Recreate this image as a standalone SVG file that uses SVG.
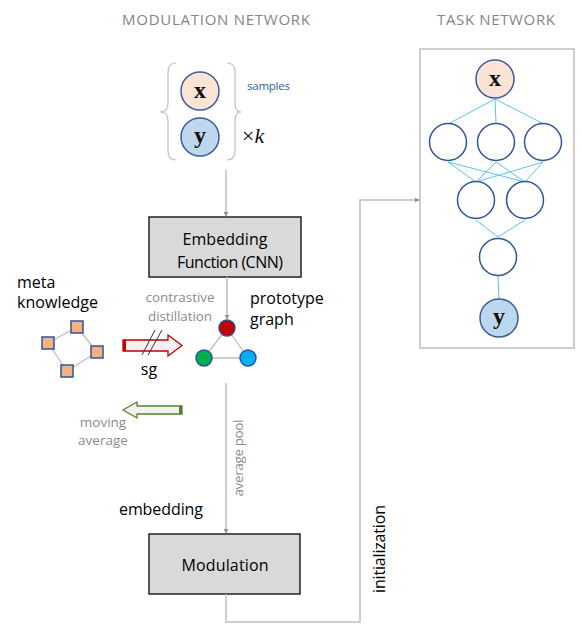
<svg xmlns="http://www.w3.org/2000/svg" width="581" height="629" viewBox="0 0 581 629">
<defs>
<marker id="ah" viewBox="0 0 10 10" refX="9" refY="5" markerWidth="5" markerHeight="5" orient="auto" markerUnits="userSpaceOnUse">
<path d="M0,0 L10,5 L0,10 z" fill="#8c8c8c"/>
</marker>
<style>
.hdr{font-family:"Open Sans","Liberation Sans",sans-serif;font-size:15px;fill:#858585}
.lbl{font-family:"Open Sans","Liberation Sans",sans-serif;font-size:16px;fill:#000}
.gry{font-family:"Open Sans","Liberation Sans",sans-serif;font-size:13.5px;fill:#8c8c8c}
.box{fill:#d9d9d9;stroke:#222;stroke-width:1.5}
.conn{fill:none;stroke:#bfbfbf;stroke-width:1.5}
.math{font-family:"Liberation Serif","DejaVu Serif",serif;font-weight:bold;font-size:24px;fill:#111}
.nn{fill:#fff;stroke:#2f5597;stroke-width:1.5}
.nl{stroke:#5bc4f0;stroke-width:1}
.sq{fill:#f4b183;stroke:#2f5597;stroke-width:1.5}
.gl{stroke:#bfbfbf;stroke-width:1.3}
</style>
</defs>
<rect width="581" height="629" fill="#fff"/>

<text class="hdr" x="216" y="25" text-anchor="middle" textLength="188">MODULATION NETWORK</text>
<text class="hdr" x="496" y="25" text-anchor="middle" textLength="118">TASK NETWORK</text>

<g id="samples">
<path d="M176,63 Q168,63 168,72 L168,103 Q168,112 160,112 Q168,112 168,121 L168,151 Q168,160 176,160" fill="none" stroke="#bfbfbf" stroke-width="1.2"/>
<path d="M227,63 Q235,63 235,72 L235,103 Q235,112 241,112 Q235,112 235,121 L235,151 Q235,160 227,160" fill="none" stroke="#bfbfbf" stroke-width="1.2"/>
<circle cx="200" cy="91" r="19" fill="#fbe3d6" stroke="#3d5a99" stroke-width="1.5"/>
<text class="math" x="200" y="98" text-anchor="middle">x</text>
<circle cx="200" cy="137" r="19" fill="#bdd7ee" stroke="#3d5a99" stroke-width="1.5"/>
<text class="math" x="200" y="143" text-anchor="middle">y</text>
<text x="247" y="90" font-family="Open Sans,Liberation Sans,sans-serif" font-size="11.5" fill="#2e5fa3" textLength="43">samples</text>
<text x="242" y="143" font-family="Liberation Serif,DejaVu Serif,serif" font-size="22" fill="#111">×<tspan font-style="italic">k</tspan></text>
</g>

<g id="embedding-function">
<rect class="box" x="149" y="217" width="152" height="60"/>
<text class="lbl" x="225" y="245" text-anchor="middle" textLength="85">Embedding</text>
<text class="lbl" x="230" y="268" text-anchor="middle" textLength="106">Function (CNN)</text>
</g>

<g id="meta-knowledge">
<text class="lbl" x="17" y="288" font-size="17">meta</text>
<text class="lbl" x="17" y="308" font-size="17" textLength="81">knowledge</text>
<line class="gl" x1="77" y1="327" x2="48" y2="343"/>
<line class="gl" x1="77" y1="327" x2="97" y2="352"/>
<line class="gl" x1="48" y1="343" x2="67" y2="371"/>
<line class="gl" x1="97" y1="352" x2="67" y2="371"/>
<rect class="sq" x="71" y="321" width="12" height="12"/>
<rect class="sq" x="42" y="337" width="12" height="12"/>
<rect class="sq" x="91" y="346" width="12" height="12"/>
<rect class="sq" x="61" y="365" width="12" height="12"/>
</g>

<g id="contrastive-arrow">
<path d="M123,340 L168,340 L168,335 L182,345.5 L168,356 L168,351 L123,351 z" fill="#f2f2f2" stroke="#c00000" stroke-width="1.3"/>
<rect x="123" y="340" width="3" height="11" fill="#c00000"/>
<line x1="142" y1="355" x2="155" y2="330" stroke="#333" stroke-width="1"/>
<line x1="148" y1="355" x2="162" y2="330" stroke="#333" stroke-width="1"/>
<text class="gry" x="180" y="302" text-anchor="middle" textLength="69">contrastive</text>
<text class="gry" x="180" y="321" text-anchor="middle" textLength="64">distillation</text>
<text class="lbl" x="149" y="375" text-anchor="middle" font-size="17">sg</text>
</g>

<g id="prototype-graph">
<line class="gl" x1="227" y1="328" x2="204" y2="358"/>
<line class="gl" x1="227" y1="328" x2="248" y2="358"/>
<line class="gl" x1="204" y1="358" x2="248" y2="358"/>
<circle cx="227" cy="328" r="8" fill="#c00000" stroke="#2f5597" stroke-width="1.5"/>
<circle cx="204" cy="358" r="8" fill="#00b050" stroke="#2f5597" stroke-width="1.5"/>
<circle cx="248" cy="358" r="8" fill="#00b0f0" stroke="#2f5597" stroke-width="1.5"/>
<text class="lbl" x="250" y="304">prototype</text>
<text class="lbl" x="250" y="325">graph</text>
</g>

<g id="moving-average-arrow">
<path d="M182,406 L137,406 L137,402 L123,410 L137,418 L137,414 L182,414 z" fill="#f2f2f2" stroke="#548235" stroke-width="1.3"/>
<rect x="179" y="406" width="3" height="8" fill="#548235"/>
<text class="gry" x="103" y="427" text-anchor="middle">moving</text>
<text class="gry" x="103" y="445" text-anchor="middle">average</text>
</g>

<g id="modulation">
<text class="lbl" x="119" y="515" textLength="84">embedding</text>
<rect class="box" x="149" y="534" width="151" height="60"/>
<text class="lbl" x="225" y="571" text-anchor="middle" textLength="87">Modulation</text>
</g>

<g id="task-network">
<rect x="420" y="49" width="154" height="299" fill="none" stroke="#bfbfbf" stroke-width="1.5"/>
<line class="nl" x1="495" y1="99" x2="450" y2="123"/>
<line class="nl" x1="495" y1="99" x2="496" y2="123"/>
<line class="nl" x1="495" y1="99" x2="542" y2="123"/>
<line class="nl" x1="448" y1="162" x2="476" y2="182"/>
<line class="nl" x1="448" y1="162" x2="525" y2="182"/>
<line class="nl" x1="496" y1="162" x2="476" y2="182"/>
<line class="nl" x1="496" y1="162" x2="525" y2="182"/>
<line class="nl" x1="543" y1="162" x2="476" y2="182"/>
<line class="nl" x1="543" y1="162" x2="525" y2="182"/>
<line class="nl" x1="476" y1="220" x2="498" y2="237"/>
<line class="nl" x1="525" y1="220" x2="498" y2="237"/>
<line class="nl" x1="498" y1="276" x2="499" y2="299"/>
<circle cx="495" cy="79" r="19" fill="#fbe3d6" stroke="#3d5a99" stroke-width="1.5"/>
<text class="math" x="495" y="86" text-anchor="middle">x</text>
<circle class="nn" cx="448" cy="142" r="18.5"/>
<circle class="nn" cx="496" cy="142" r="18.5"/>
<circle class="nn" cx="543" cy="142" r="18.5"/>
<circle class="nn" cx="476" cy="200" r="18.5"/>
<circle class="nn" cx="525" cy="200" r="18.5"/>
<circle class="nn" cx="498" cy="257" r="18.5"/>
<circle cx="499" cy="318" r="19" fill="#bdd7ee" stroke="#3d5a99" stroke-width="1.5"/>
<text class="math" x="499" y="324" text-anchor="middle">y</text>
</g>

<g id="connectors">
<line class="conn" x1="226" y1="170" x2="226" y2="216" marker-end="url(#ah)"/>
<line class="conn" x1="227" y1="277" x2="227" y2="319" marker-end="url(#ah)"/>
<line class="conn" x1="226" y1="383" x2="226" y2="533" marker-end="url(#ah)"/>
<text class="gry" transform="translate(243,458) rotate(-90)" text-anchor="middle" textLength="77">average pool</text>
<path class="conn" d="M226,594 L226,622 L360,622 L360,200 L419,200" marker-end="url(#ah)"/>
<text class="lbl" transform="translate(385,549) rotate(-90)" text-anchor="middle" textLength="88">initialization</text>
</g>
</svg>
